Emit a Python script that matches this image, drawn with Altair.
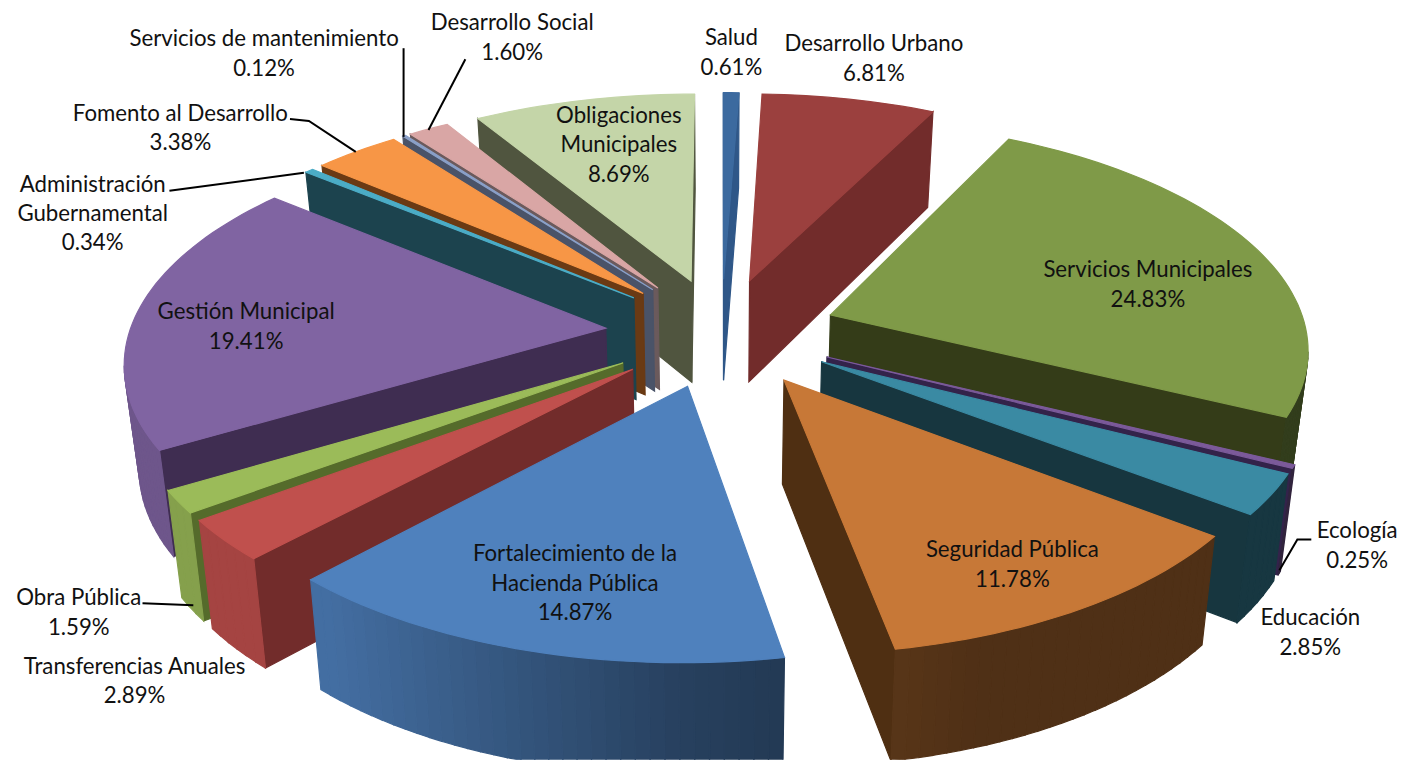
import math
import altair as alt

categories = ["Salud", "Desarrollo Urbano", "Servicios Municipales", "Ecología", "Educación",
              "Seguridad Pública", "Fortalecimiento de la\nHacienda Pública", "Transferencias Anuales",
              "Obra Pública", "Gestión Municipal", "Administración\nGubernamental", "Fomento al Desarrollo",
              "Servicios de mantenimiento", "Desarrollo Social", "Obligaciones\nMunicipales"]
shares = [0.61, 6.81, 24.83, 0.25, 2.85, 11.78, 14.87, 2.89, 1.59, 19.41, 0.34, 3.38, 0.12, 1.60, 8.69]
top_colors = ["#3C6A9F", "#9B403E", "#7F9A48", "#7B5A9A", "#3A8AA3", "#C77837", "#4F81BD", "#C0504D",
              "#9BBB59", "#8064A2", "#4BACC6", "#F79646", "#8AA0C8", "#D9A6A5", "#C4D5A8"]
wall_colors = ["#2F5788", "#722C2B", "#343C18", "#33234A", "#17363F", "#4F2F12", "#2F4C71", "#722C2B",
               "#556B2B", "#3F2D51", "#1C434E", "#6A3A14", "#4A5368", "#6B5A5C", "#50553F"]
label_x = [734, 877, 1152, 1362, 1315, 1016, 577, 135, 79, 247, 93, 181, 265, 514, 621]
label_y = [37, 43, 270, 532, 619, 551, 555, 668, 599, 312, 184, 113, 38, 22, 115]
leaders = [
    [(1316, 540), (1302, 540), (1284, 571)],
    [(143, 604), (194, 606)],
    [(170, 190), (305, 172)],
    [(291, 118), (310, 120), (357, 151)],
    [(405, 47), (405, 136)],
    [(467, 58), (430, 129)],
]

EXPLODE = 0.244
PERSP = 0.132
TILT = 225 / 478
DEPTH = 103 / 478
CONVERGE = 0.975
CX, CY, R = 724, 332, 478
W, H = 1390, 753


def project(x, y):
    p = 1 / (1 + PERSP * y)
    return x * p, TILT * y * p, p


def rgb(hexc):
    return [int(hexc[i:i + 2], 16) for i in (1, 3, 5)]


def shade(hexc, f):
    return "#%02x%02x%02x" % tuple(min(255, int(c * f)) for c in rgb(hexc))


def outer_factor(nx):
    return min(0.86, 0.5 - 0.55 * nx) if nx < 0 else max(0.4, 0.5 - 0.3 * nx)


def feature(ring, color):
    ring = [list(pt) for pt in ring] + [list(ring[0])]
    return {"type": "Feature", "properties": {"fill": color},
            "geometry": {"type": "Polygon", "coordinates": [ring]}}


slices = []
cum = 0.0
total = sum(shares)
for i, s in enumerate(shares):
    a0 = cum / total * 2 * math.pi
    cum += s
    a1 = cum / total * 2 * math.pi
    slices.append((i, a0, a1, (a0 + a1) / 2))

features = []
for i, a0, a1, mid in sorted(slices, key=lambda t: -math.cos(t[3])):
    ox, oy = EXPLODE * math.sin(mid), EXPLODE * math.cos(mid)
    n = max(2, int((a1 - a0) / math.radians(1.5)))
    angles = [a0 + (a1 - a0) * k / n for k in range(n + 1)]
    world = [(ox, oy)] + [(ox + math.sin(a), oy + math.cos(a)) for a in angles]
    pts = [project(x, y) for x, y in world]
    # walls below every top-face edge that faces the viewer
    m = len(pts)
    walls = []
    for k in range(m):
        u0, v0, p0 = pts[k]
        u1, v1, p1 = pts[(k + 1) % m]
        if u1 < u0:
            radial = k == m - 1 or k == 0
            if radial:
                color = wall_colors[i]
            else:
                am = (angles[k - 1] + angles[k]) / 2
                color = shade(top_colors[i], outer_factor(math.sin(am)))
            quad = [(u0, v0), (u1, v1),
                    (u1 * CONVERGE, v1 - DEPTH * math.sqrt(p1)),
                    (u0 * CONVERGE, v0 - DEPTH * math.sqrt(p0))]
            walls.append((0 if radial else 1, feature(quad, color)))
    features += [f for _, f in sorted(walls, key=lambda t: t[0])]
    features.append(feature([(u, v) for u, v, _ in pts], top_colors[i]))

pie = (alt.Chart(alt.Data(values=features))
       .mark_geoshape(strokeWidth=1.2)
       .encode(fill=alt.Fill("properties.fill:N", scale=None),
               stroke=alt.Stroke("properties.fill:N", scale=None))
       .project(type="identity", scale=R, translate=[CX - 8, CY - 8], reflectY=True))

xs = alt.Scale(domain=[8, 8 + W], range=[0, W])
ys = alt.Scale(domain=[8, 8 + H], range=[0, H])

line_rows = [{"lid": j, "o": k, "x": x, "y": y}
             for j, line in enumerate(leaders) for k, (x, y) in enumerate(line)]
lines = (alt.Chart(alt.Data(values=line_rows))
         .mark_line(color="#000000", strokeWidth=2, interpolate="linear")
         .encode(x=alt.X("x:Q", scale=xs, axis=None), y=alt.Y("y:Q", scale=ys, axis=None),
                 detail="lid:N", order="o:Q"))

text_rows = [{"t": f"{c}\n{s:.2f}%", "x": x, "y": y}
             for c, s, x, y in zip(categories, shares, label_x, label_y)]
labels = (alt.Chart(alt.Data(values=text_rows))
          .mark_text(font="Lato", fontSize=22.3, color="#111111", lineBreak="\n", lineHeight=29.5,
                     align="center", baseline="middle")
          .encode(x=alt.X("x:Q", scale=xs, axis=None), y=alt.Y("y:Q", scale=ys, axis=None), text="t:N"))

chart = (alt.layer(pie, lines, labels)
         .resolve_scale(fill="independent")
         .properties(width=W, height=H, padding=0, background="#ffffff")
         .configure_view(stroke=None))
chart.save("out.html", embed_options={"renderer": "svg", "actions": False})
